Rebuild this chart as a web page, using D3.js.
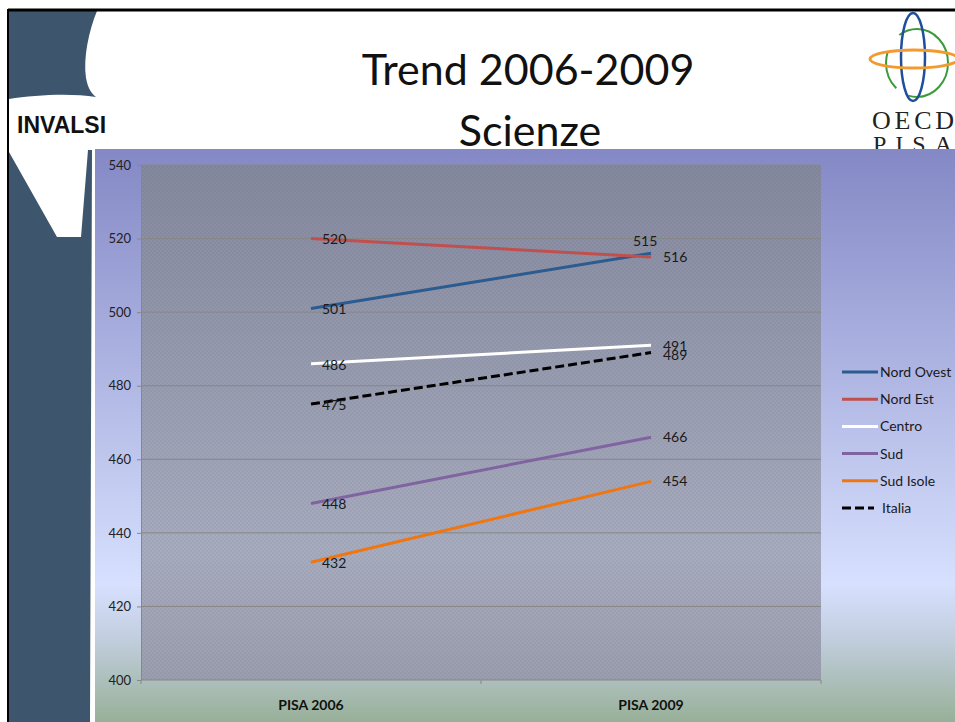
<!DOCTYPE html>
<html>
<head>
<meta charset="utf-8">
<script src="https://cdn.jsdelivr.net/npm/d3@7"></script>
<style>
  body { margin: 0; background: #fff; }
  svg { display: block; }
  text { font-family: Lato, "Open Sans", sans-serif; }
</style>
</head>
<body>
<div id="chart"></div>
<script>
// Chart data
var categories = ['PISA 2006', 'PISA 2009'];
var seriesNames = ['Nord Ovest', 'Nord Est', 'Centro', 'Sud', 'Sud Isole', 'Italia'];
var nordOvest = [501, 516];
var nordEst = [520, 515];
var centro = [486, 491];
var sud = [448, 466];
var sudIsole = [432, 454];
var italia = [475, 489];
var yTicks = [400, 420, 440, 460, 480, 500, 520, 540];

var seriesValues = [nordOvest, nordEst, centro, sud, sudIsole, italia];
var colors = ['#2b5b8f', '#c0504d', '#ffffff', '#8064a2', '#f0760f', '#000000'];
var dashes = [null, null, null, null, null, '9,4'];
// label nudges for the 2009 end (dx, dy) where labels collide
var endLabelNudge = [[12, 4], [-18, -16], [12, 1], [12, 0], [12, 0], [12, 2]];

var width = 955, height = 722;

var svg = d3.select('#chart').append('svg')
  .attr('width', width)
  .attr('height', height);

var defs = svg.append('defs');

// slide background gradient (behind the chart)
var bgGrad = defs.append('linearGradient').attr('id', 'bgGrad')
  .attr('x1', 0).attr('y1', 0).attr('x2', 0).attr('y2', 1);
bgGrad.append('stop').attr('offset', '0%').attr('stop-color', '#8488c5');
bgGrad.append('stop').attr('offset', '76%').attr('stop-color', '#d7e0fe');
bgGrad.append('stop').attr('offset', '85%').attr('stop-color', '#c3cfe0');
bgGrad.append('stop').attr('offset', '100%').attr('stop-color', '#98b098');

// plot area gradient
var plotGrad = defs.append('linearGradient').attr('id', 'plotGrad')
  .attr('x1', 0).attr('y1', 0).attr('x2', 0).attr('y2', 1);
plotGrad.append('stop').attr('offset', '0%').attr('stop-color', '#85899f');
plotGrad.append('stop').attr('offset', '75%').attr('stop-color', '#a8acbf');
plotGrad.append('stop').attr('offset', '100%').attr('stop-color', '#9a9eaf');

// faint checker texture of the plot area
var pat = defs.append('pattern').attr('id', 'checker')
  .attr('width', 4).attr('height', 4).attr('patternUnits', 'userSpaceOnUse');
pat.append('rect').attr('width', 2).attr('height', 2).attr('fill', '#000').attr('opacity', 0.04);
pat.append('rect').attr('x', 2).attr('y', 2).attr('width', 2).attr('height', 2).attr('fill', '#000').attr('opacity', 0.04);

// Left decoration (INVALSI logo strip)
var slate = '#3d566d';
svg.append('path')
  .attr('d', 'M9,11 L97,11 C89,30 83,58 86,78 C88,89 92,94 96,97 C70,93 35,95 9,99 Z')
  .attr('fill', slate);
svg.append('path')
  .attr('d', 'M9,152 L57,237 L81,237 L88,150 L92,150 L90,722 L9,722 Z')
  .attr('fill', slate);

svg.append('text')
  .attr('x', 17).attr('y', 133)
  .style('font-family', '"Liberation Sans", Arial, sans-serif')
  .style('font-weight', 'bold')
  .style('font-size', '23px')
  .attr('fill', '#111')
  .text('INVALSI');

// slide frame
svg.append('line').attr('x1', 8).attr('x2', width).attr('y1', 10).attr('y2', 10)
  .attr('stroke', '#000').attr('stroke-width', 3);
svg.append('line').attr('x1', 8).attr('x2', 8).attr('y1', 9).attr('y2', height)
  .attr('stroke', '#000').attr('stroke-width', 2);

// Title
var title = svg.append('text')
  .attr('text-anchor', 'middle')
  .style('font-size', '43px')
  .attr('fill', '#111');
title.append('tspan').attr('x', 528).attr('y', 85).text('Trend 2006-2009');
title.append('tspan').attr('x', 530).attr('y', 146).text('Scienze');

// OECD PISA logo
var logo = svg.append('g');
logo.append('ellipse').attr('cx', 917).attr('cy', 63).attr('rx', 31).attr('ry', 34)
  .attr('fill', 'none').attr('stroke', '#3a9a3a').attr('stroke-width', 2)
  .attr('stroke-dasharray', '60,14,40,20,80');
logo.append('ellipse').attr('cx', 913).attr('cy', 57).attr('rx', 12).attr('ry', 44)
  .attr('fill', 'none').attr('stroke', '#1f4f9a').attr('stroke-width', 2.5);
logo.append('ellipse').attr('cx', 914).attr('cy', 59).attr('rx', 44).attr('ry', 9)
  .attr('fill', 'none').attr('stroke', '#f29a2e').attr('stroke-width', 3);
logo.append('text').attr('x', 872).attr('y', 129)
  .style('font-family', '"Liberation Serif", "DejaVu Serif", serif')
  .style('font-size', '26px').attr('fill', '#222')
  .attr('textLength', 82)
  .text('OECD');
logo.append('text').attr('x', 873).attr('y', 152)
  .style('font-family', '"Liberation Serif", "DejaVu Serif", serif')
  .style('font-size', '24px').attr('fill', '#222')
  .style('letter-spacing', '9px')
  .text('PISA');

// chart background
svg.append('rect')
  .attr('x', 95).attr('y', 149).attr('width', width - 95).attr('height', height - 149)
  .attr('fill', 'url(#bgGrad)');

// Scales
var plot = { left: 141, right: 821, top: 165, bottom: 680 };

var x = d3.scalePoint()
  .domain(categories)
  .range([plot.left, plot.right])
  .padding(0.5);

var y = d3.scaleLinear()
  .domain([400, 540])
  .range([plot.bottom, plot.top]);

// plot area
svg.append('rect')
  .attr('x', plot.left).attr('y', plot.top)
  .attr('width', plot.right - plot.left).attr('height', plot.bottom - plot.top)
  .attr('fill', 'url(#plotGrad)');
svg.append('rect')
  .attr('x', plot.left).attr('y', plot.top)
  .attr('width', plot.right - plot.left).attr('height', plot.bottom - plot.top)
  .attr('fill', 'url(#checker)');

// gridlines
svg.append('g')
  .selectAll('line')
  .data(yTicks.slice(1))
  .enter().append('line')
    .attr('x1', plot.left).attr('x2', plot.right)
    .attr('y1', function(d) { return y(d); })
    .attr('y2', function(d) { return y(d); })
    .attr('stroke', '#878787').attr('stroke-width', 1);

// y axis
var yAxis = svg.append('g')
  .attr('transform', 'translate(' + plot.left + ',0)')
  .call(d3.axisLeft(y).tickValues(yTicks).tickSize(4).tickPadding(6));
yAxis.select('.domain').attr('stroke', '#878787');
yAxis.selectAll('.tick line').attr('stroke', '#878787');
yAxis.selectAll('text')
  .style('font-family', 'Lato, sans-serif')
  .style('font-size', '13px')
  .attr('fill', '#222');

// x axis (ticks sit on the band edges)
var bandEdges = [plot.left, (plot.left + plot.right) / 2, plot.right];
svg.append('line')
  .attr('x1', plot.left).attr('x2', plot.right)
  .attr('y1', plot.bottom).attr('y2', plot.bottom)
  .attr('stroke', '#878787');
svg.append('g').selectAll('line')
  .data(bandEdges)
  .enter().append('line')
    .attr('x1', function(d) { return d; }).attr('x2', function(d) { return d; })
    .attr('y1', plot.bottom).attr('y2', plot.bottom + 4)
    .attr('stroke', '#878787');
svg.append('g').selectAll('text')
  .data(categories)
  .enter().append('text')
    .attr('x', function(d) { return x(d); })
    .attr('y', 710)
    .attr('text-anchor', 'middle')
    .style('font-size', '14px')
    .style('font-weight', 'bold')
    .attr('fill', '#111')
    .text(function(d) { return d; });

// series lines
var line = d3.line()
  .x(function(d, i) { return x(categories[i]); })
  .y(function(d) { return y(d); });

var seriesG = svg.append('g');
seriesValues.forEach(function(vals, s) {
  seriesG.append('path')
    .datum(vals)
    .attr('d', line)
    .attr('fill', 'none')
    .attr('stroke', colors[s])
    .attr('stroke-width', 3)
    .attr('stroke-dasharray', dashes[s]);
});

// data labels
var labelG = svg.append('g');
seriesValues.forEach(function(vals, s) {
  vals.forEach(function(v, i) {
    var nudge = i === 0 ? [11, 1] : endLabelNudge[s];
    labelG.append('text')
      .attr('x', x(categories[i]) + nudge[0])
      .attr('y', y(v) + nudge[1])
      .attr('dy', '0.35em')
      .style('font-size', '14px')
      .attr('fill', '#1a1a1a')
      .text(v);
  });
});

// legend
var legend = svg.append('g').attr('transform', 'translate(842,372)');
var item = legend.selectAll('g')
  .data(seriesNames)
  .enter().append('g')
    .attr('transform', function(d, i) { return 'translate(0,' + (i * 27.2) + ')'; });
item.append('line')
  .attr('x1', 0).attr('x2', function(d, i) { return i === 5 ? 32 : 36; })
  .attr('stroke', function(d, i) { return colors[i]; })
  .attr('stroke-width', 3)
  .attr('stroke-dasharray', function(d, i) { return dashes[i]; });
item.append('text')
  .attr('x', function(d, i) { return i === 5 ? 40 : 38; })
  .attr('dy', '0.35em')
  .style('font-size', '14px')
  .attr('fill', '#1a1a1a')
  .text(function(d) { return d; });
</script>
</body>
</html>
